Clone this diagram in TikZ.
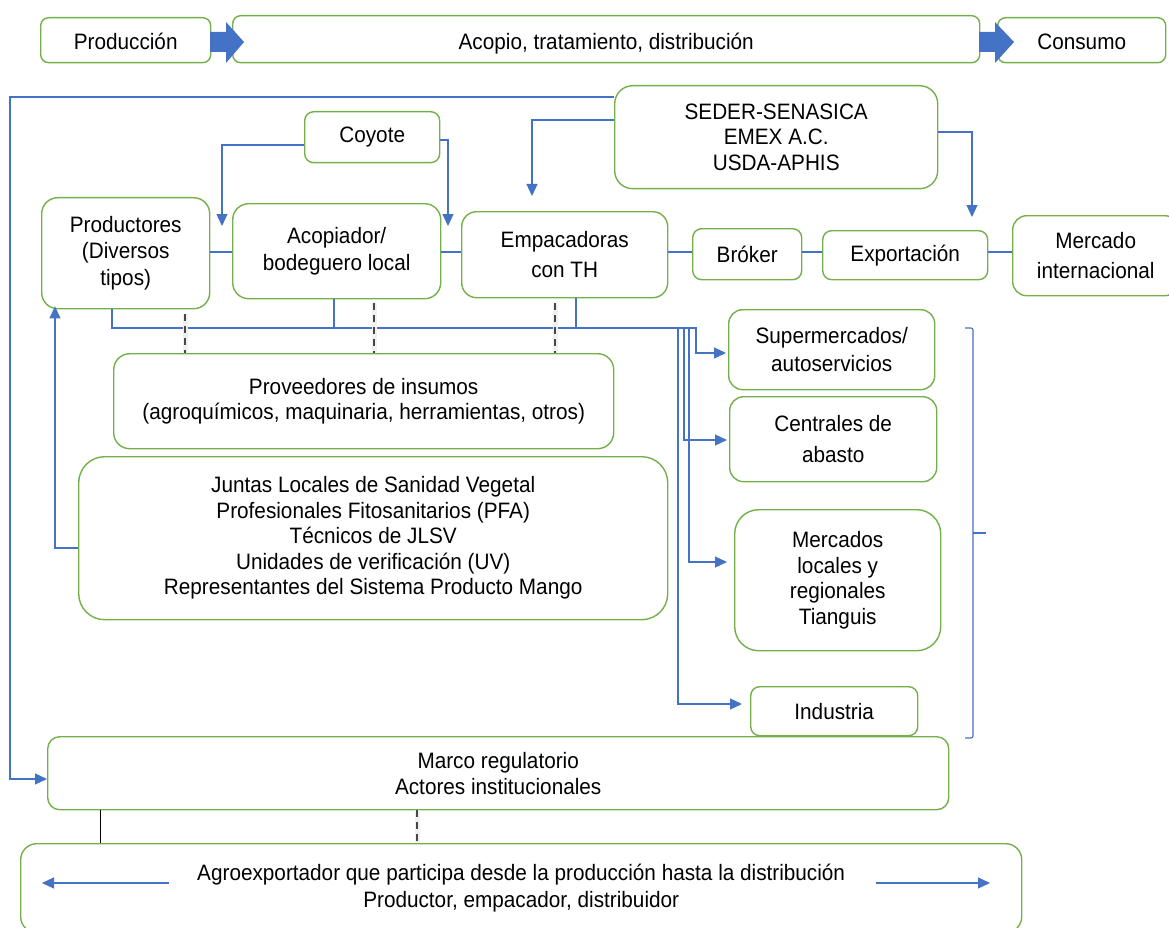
\documentclass[tikz,border=0pt]{standalone}
\usepackage{fontspec}
\setmainfont{Liberation Sans}[FakeStretch=0.93]
\usetikzlibrary{arrows.meta}
\definecolor{gbord}{HTML}{74B04A}
\definecolor{bl}{HTML}{4472C4}
\newcommand{\mybox}[7][]{\node[box,#1,minimum width={#5-#3},minimum height={#6-#4},anchor=north west] (#2) at (#3,#4) {#7};}
\newcommand{\dline}[2]{\draw[gray!12,line width=5pt] #1 -- #2; \draw[gray!55!black,line width=1.4pt,dash pattern=on 7pt off 5pt] #1 -- #2;}
\newcommand{\lowtxt}[2]{\raisebox{-#1}[0pt][0pt]{#2}}
\begin{document}
\begin{tikzpicture}[x=1pt,y=-1pt,
  box/.style={draw=gbord,line width=1.4pt,fill=white,align=center,inner sep=2pt,rounded corners=12pt,font=\fontsize{22.3}{25.5}\selectfont},
  lead/.style={font=\fontsize{22.3}{#1}\selectfont},
  conn/.style={draw=bl,line width=1.2pt},
  tip/.style={-{Triangle[length=12pt,width=11pt]}}]
\useasboundingbox (0,0) rectangle (1169,928);

% top row
\mybox[rounded corners=8pt]{p0}{40}{17}{210}{62}{\lowtxt{9.5pt}{Producción}}
\mybox[rounded corners=8pt]{a0}{232}{15}{979}{62}{\lowtxt{10pt}{Acopio, tratamiento, distribución}}
\mybox[rounded corners=8pt]{c0}{997}{17}{1165}{62}{\lowtxt{9.5pt}{Consumo}}
\fill[bl] (210,32) -- (226,32) -- (226,22) -- (244,42) -- (226,63) -- (226,52) -- (210,52) -- cycle;
\fill[bl] (979,32) -- (995,32) -- (995,22) -- (1014,42) -- (995,63) -- (995,52) -- (979,52) -- cycle;

% boxes
\mybox[rounded corners=18pt]{seder}{614}{85}{937}{188}{SEDER-SENASICA\\EMEX A.C.\\USDA-APHIS}
\mybox[rounded corners=9pt]{coy}{304}{111}{439}{162}{Coyote}
\mybox[rounded corners=16pt,lead=26.5]{prodn}{41}{197}{209}{308}{Productores\\(Diversos\\tipos)}
\mybox[rounded corners=16pt,lead=27]{acop}{232}{203}{440}{298}{Acopiador/\\bodeguero local}
\mybox[rounded corners=15pt,lead=30]{emp}{461}{211}{667}{297}{Empacadoras\\con TH}
\mybox[rounded corners=9pt]{brk}{692}{228}{801}{279}{Bróker}
\mybox[rounded corners=9pt]{exp}{822}{230}{987}{279}{Exportación}
\mybox[rounded corners=14pt,lead=30]{mint}{1012}{215}{1178}{295}{Mercado\\internacional}
\mybox[rounded corners=16pt]{prov}{113}{353}{613}{448}{Proveedores de insumos\\(agroquímicos, maquinaria, herramientas, otros)}
\mybox[rounded corners=26pt]{jun}{78}{456}{667}{619}{Juntas Locales de Sanidad Vegetal\\Profesionales Fitosanitarios (PFA)\\Técnicos de JLSV\\Unidades de verificación (UV)\\Representantes del Sistema Producto Mango}
\mybox[rounded corners=14pt,lead=28]{sup}{728}{309}{934}{389}{Supermercados/\\autoservicios}
\mybox[rounded corners=14pt,lead=31]{cen}{729}{396}{936}{481}{Centrales de\\abasto}
\mybox[rounded corners=24pt]{mer}{734}{509}{940}{650}{Mercados\\locales y\\regionales\\Tianguis}
\mybox[rounded corners=9pt]{ind}{750}{686}{917}{735}{Industria}
\mybox[rounded corners=12pt,lead=26]{mar}{47}{736}{948}{809}{Marco regulatorio\\Actores institucionales}
\mybox[rounded corners=16pt,lead=27]{agr}{20}{843}{1021}{932}{Agroexportador que participa desde la producción hasta la distribución\\Productor, empacador, distribuidor}

% connectors from SEDER
\draw[conn,tip] (seder.west |- 0,97) -- (10,97) |- (mar.west |- 0,779);
\draw[conn,tip,shorten >=15pt] (seder.west |- 0,120) -| (emp.north -| 532,0);
\draw[conn,tip,shorten >=13pt] (seder.east |- 0,132) -| (exp.north -| 972,0);

% coyote
\coordinate (cl) at (222,226);
\coordinate (cr) at (448,226);
\draw[conn,tip] (coy.west |- 0,145) -| (cl);
\draw[conn,tip] (coy.east |- 0,140) -| (cr);

% main chain
\draw[conn] (prodn.east |- 0,252) -- (acop.west |- 0,252);
\draw[conn] (acop.east |- 0,252) -- (emp.west |- 0,252);
\draw[conn] (emp.east |- 0,252) -- (brk.west |- 0,252);
\draw[conn] (brk.east |- 0,252) -- (exp.west |- 0,252);
\draw[conn] (exp.east |- 0,252) -- (mint.west |- 0,252);

% bus to markets
\draw[conn,tip,shorten >=2pt] (prodn.south -| 112,0) |- (696,328) |- (sup.west |- 0,353);
\draw[conn] (acop.south -| 334,0) -- (334,328);
\draw[conn] (emp.south -| 576,0) -- (576,328);
\draw[conn,tip,shorten >=2pt] (684,328) |- (cen.west |- 0,440);
\draw[conn,tip,shorten >=7pt] (689,328) |- (mer.west |- 0,562);
\draw[conn,tip,shorten >=8pt] (678,328) |- (ind.west |- 0,704);

% Juntas to productores
\draw[conn,tip,shorten >=-3pt] (jun.west |- 0,548) -| (prodn.south -| 55,0);

% dashed links
\dline{([yshift=-5pt]prodn.south -| 185,0)}{(prov.north -| 185,0)}
\dline{([yshift=-4pt]acop.south -| 374,0)}{(prov.north -| 374,0)}
\dline{([yshift=-5pt]emp.south -| 555,0)}{(prov.north -| 555,0)}
\dline{(mar.south -| 417,0)}{(agr.north -| 417,0)}
\draw[black,line width=1pt] (mar.south -| 100,0) -- (agr.north -| 100,0);

% bracket
\draw[bl,line width=1.1pt,rounded corners=2pt] (965,328) -- (973,328) -- (973,738) -- (965,738);
\draw[bl,line width=1.1pt] (973,533) -- (986,533);

% arrows inside agroexportador
\coordinate (al1) at (169,883);
\coordinate (al2) at (42,883);
\coordinate (ar1) at (876,883);
\coordinate (ar2) at (990,883);
\draw[conn,tip] (al1) -- (al2);
\draw[conn,tip] (ar1) -- (ar2);
\end{tikzpicture}
\end{document}
